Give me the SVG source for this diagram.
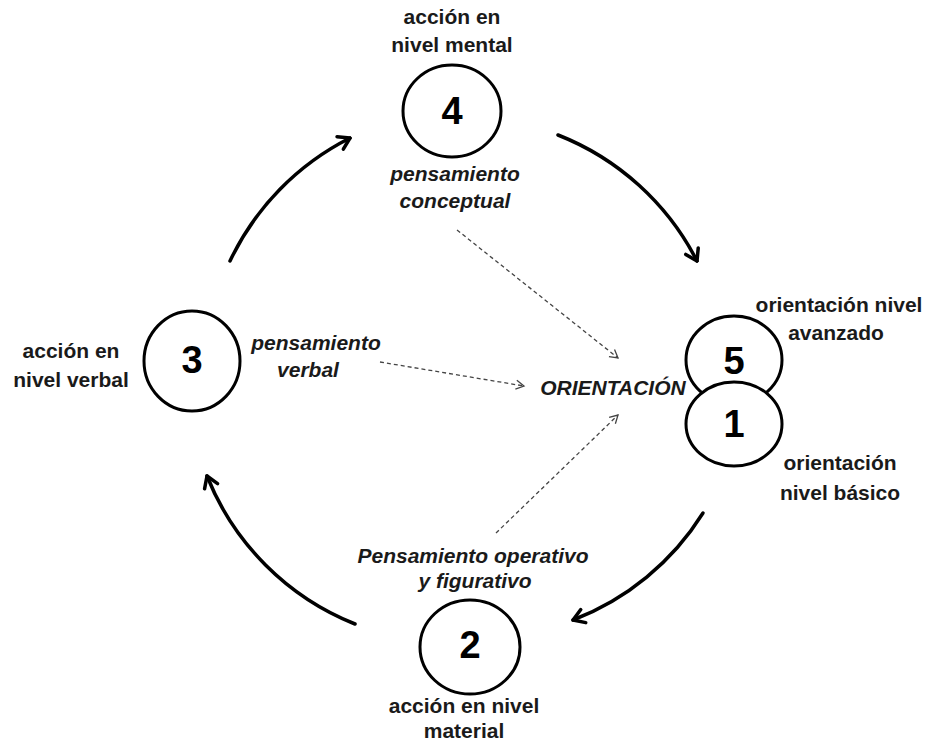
<svg xmlns="http://www.w3.org/2000/svg" width="928" height="744" viewBox="0 0 928 744">
  <style>
    .node { fill: #fff; stroke: #000; stroke-width: 3; }
    .lbl { font-family: "Liberation Sans", Arial, sans-serif; font-weight: bold; font-size: 21px; fill: #1a1a1a; text-anchor: middle; }
    .it { font-style: italic; }
    .num { font-family: "Liberation Sans", Arial, sans-serif; font-weight: bold; font-size: 38px; fill: #000; text-anchor: middle; }
    .cycle { fill: none; stroke: #000; stroke-width: 3.5; stroke-linecap: round; marker-end: url(#head); }
    .dash { fill: none; stroke: #444; stroke-width: 1.3; stroke-dasharray: 4 3; marker-end: url(#thin); }
  </style>
  <defs>
    <marker id="head" markerUnits="userSpaceOnUse" viewBox="-14 -10 16 20" refX="0" refY="0" markerWidth="16" markerHeight="20" orient="auto">
      <path d="M-11,-7 L0,0 L-11,7" fill="none" stroke="#000" stroke-width="3.5" stroke-linecap="round" stroke-linejoin="round"/>
    </marker>
    <marker id="thin" markerUnits="userSpaceOnUse" viewBox="-10 -6 12 12" refX="0" refY="0" markerWidth="12" markerHeight="12" orient="auto">
      <path d="M-8,-4.5 L0,0 L-8,4.5" fill="none" stroke="#444" stroke-width="1.3"/>
    </marker>
  </defs>

  <rect width="928" height="744" fill="#fff"/>

  <!-- cycle connectors and dashed links toward the centre -->
  <g id="connectors">
    <path class="cycle" d="M230,261 A265,265 0 0,1 350,138"/>
    <path class="cycle" d="M558,135 A265,265 0 0,1 697,261"/>
    <path class="cycle" d="M703,513 A265,265 0 0,1 573,620"/>
    <path class="cycle" d="M355,624 A265,265 0 0,1 207,476"/>
    <path class="dash" d="M457,230 L618,358"/>
    <path class="dash" d="M380,362 L524,386"/>
    <path class="dash" d="M496,533 L618,415"/>
  </g>

  <g id="centro">
    <text class="lbl it" x="613" y="395">ORIENTACIÓN</text>
  </g>

  <g id="n4">
    <text class="lbl" x="452" y="24">acción en</text>
    <text class="lbl" x="452" y="52">nivel mental</text>
    <ellipse class="node" cx="452" cy="111" rx="49" ry="46"/>
    <text class="num" x="452" y="124">4</text>
    <text class="lbl it" x="455" y="181">pensamiento</text>
    <text class="lbl it" x="455" y="208">conceptual</text>
  </g>

  <g id="n3">
    <text class="lbl" x="71" y="358">acción en</text>
    <text class="lbl" x="71" y="387">nivel verbal</text>
    <ellipse class="node" cx="192" cy="361" rx="48" ry="50"/>
    <text class="num" x="192" y="373">3</text>
    <text class="lbl it" x="316" y="350">pensamiento</text>
    <text class="lbl it" x="308" y="377">verbal</text>
  </g>

  <g id="n5">
    <ellipse class="node" cx="734" cy="360" rx="48" ry="44"/>
    <text class="num" x="734" y="374">5</text>
    <text class="lbl" x="839" y="312">orientación nivel</text>
    <text class="lbl" x="836" y="340">avanzado</text>
  </g>

  <g id="n1">
    <ellipse class="node" cx="734" cy="424" rx="48" ry="42"/>
    <text class="num" x="734" y="437">1</text>
    <text class="lbl" x="840" y="470">orientación</text>
    <text class="lbl" x="840" y="500">nivel básico</text>
  </g>

  <g id="n2">
    <text class="lbl it" x="473" y="563">Pensamiento operativo</text>
    <text class="lbl it" x="475" y="588">y figurativo</text>
    <ellipse class="node" cx="470" cy="647" rx="50" ry="47"/>
    <text class="num" x="470" y="658">2</text>
    <text class="lbl" x="464" y="713">acción en nivel</text>
    <text class="lbl" x="464" y="738">material</text>
  </g>
</svg>
